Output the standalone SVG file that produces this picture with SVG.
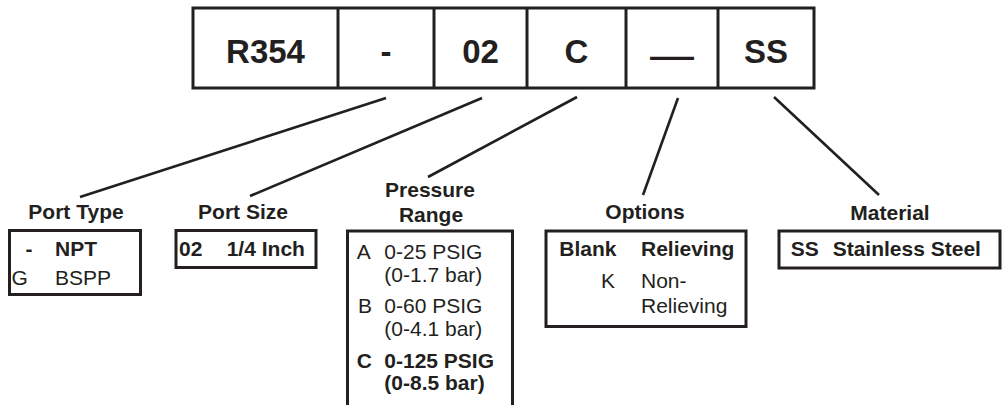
<svg xmlns="http://www.w3.org/2000/svg" width="1003" height="405" viewBox="0 0 1003 405">
<style>
  text { font-family: "Liberation Sans", Arial, sans-serif; fill: #231f20; }
  .big { font-size: 33px; font-weight: bold; text-anchor: middle; }
  .lbl { font-size: 21px; font-weight: bold; text-anchor: middle; }
  .t { font-size: 21px; }
  .b { font-size: 21px; font-weight: bold; }
  .box { fill: #fff; stroke: #231f20; stroke-width: 3; }
  .open { fill: none; stroke: #231f20; stroke-width: 3; }
  .conn line { stroke: #231f20; stroke-width: 2.6; stroke-linecap: butt; }
</style>
<rect width="1003" height="405" fill="#fff"/>

<g id="model-code">
  <rect class="box" x="193" y="8" width="621" height="80"/>
  <line class="open" x1="338" y1="8" x2="338" y2="88"/>
  <line class="open" x1="434" y1="8" x2="434" y2="88"/>
  <line class="open" x1="527" y1="8" x2="527" y2="88"/>
  <line class="open" x1="626" y1="8" x2="626" y2="88"/>
  <line class="open" x1="718" y1="8" x2="718" y2="88"/>
  <text class="big" x="265.5" y="63">R354</text>
  <text class="big" x="386" y="63">-</text>
  <text class="big" x="480.5" y="63">02</text>
  <text class="big" x="576.5" y="63">C</text>
  <text class="big" x="672" y="67" textLength="44" lengthAdjust="spacingAndGlyphs">—</text>
  <text class="big" x="766" y="63">SS</text>
</g>

<g class="conn" id="connectors">
  <line x1="386" y1="98" x2="80" y2="197"/>
  <line x1="482" y1="98" x2="250" y2="196"/>
  <line x1="577" y1="97" x2="428" y2="177"/>
  <line x1="678" y1="98" x2="643" y2="195"/>
  <line x1="774" y1="97" x2="879" y2="195"/>
</g>

<g id="port-type">
  <text class="lbl" x="76" y="219">Port Type</text>
  <rect class="box" x="9.5" y="230.5" width="131" height="64"/>
  <text class="b" x="29" y="256" text-anchor="middle">-</text>
  <text class="b" x="55" y="256">NPT</text>
  <text class="t" x="11.5" y="285">G</text>
  <text class="t" x="55" y="285">BSPP</text>
</g>

<g id="port-size">
  <text class="lbl" x="243" y="219">Port Size</text>
  <rect class="box" x="176" y="230.5" width="140" height="37"/>
  <text class="b" x="179" y="256">02</text>
  <text class="b" x="226.7" y="256">1/4 Inch</text>
</g>

<g id="pressure-range">
  <text class="lbl" x="430" y="197">Pressure</text>
  <text class="lbl" x="431" y="222">Range</text>
  <path class="open" d="M347.5,406 V231 H512.5 V406"/>
  <text class="t" x="356.7" y="259">A</text>
  <text class="t" x="384.3" y="259">0-25 PSIG</text>
  <text class="t" x="384.3" y="282">(0-1.7 bar)</text>
  <text class="t" x="358" y="313">B</text>
  <text class="t" x="384.3" y="313">0-60 PSIG</text>
  <text class="t" x="384.3" y="335.5">(0-4.1 bar)</text>
  <text class="b" x="356.7" y="367.5">C</text>
  <text class="b" x="384.3" y="367.5">0-125 PSIG</text>
  <text class="b" x="384.3" y="390">(0-8.5 bar)</text>
</g>

<g id="options">
  <text class="lbl" x="645" y="219">Options</text>
  <rect class="box" x="546" y="231" width="200" height="95.5"/>
  <text class="b" x="559.3" y="256">Blank</text>
  <text class="b" x="641" y="256">Relieving</text>
  <text class="t" x="615" y="288" text-anchor="end">K</text>
  <text class="t" x="641" y="288">Non-</text>
  <text class="t" x="641" y="312.5">Relieving</text>
</g>

<g id="material">
  <text class="lbl" x="890" y="219.5">Material</text>
  <rect class="box" x="779" y="231" width="221" height="37"/>
  <text class="b" x="790.7" y="256">SS</text>
  <text class="b" x="832.7" y="256">Stainless Steel</text>
</g>
</svg>
